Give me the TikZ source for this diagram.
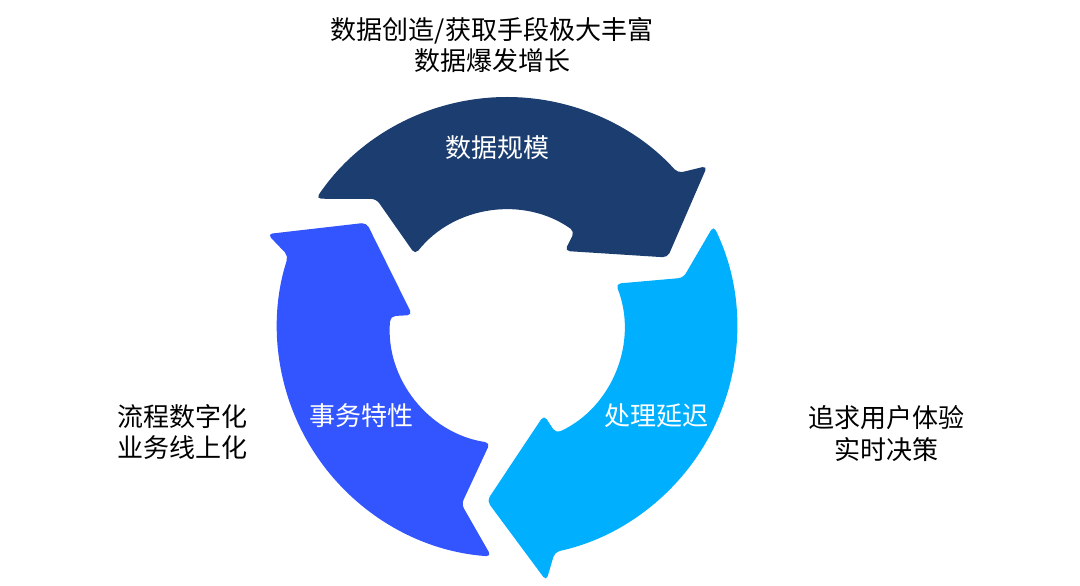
\documentclass[tikz,border=0pt]{standalone}
\usepackage{fontspec}
\newfontfamily\cjk{Noto Sans CJK SC}
\definecolor{darkb}{HTML}{1B3D70}
\definecolor{midb}{HTML}{3355FF}
\definecolor{lightb}{HTML}{00B0FF}
\newcommand\cycArrow[2]{%
  \fill[#2, rounded corners=5pt, shift={(507,259)}, rotate=#1]
    (26.1:230) arc[start angle=26.1, end angle=-78, radius=230pt]
    -- (-81.2:257) -- (-96.6:175) -- (-67.2:95.5) -- (-65.3:117)
    arc[start angle=-65.3, end angle=21.7, radius=117pt]
    -- (15.6:183) -- cycle;}
\begin{document}
\begin{tikzpicture}[x=1pt,y=1pt,
  lab/.style={font=\cjk\fontsize{26}{31.5}\selectfont, align=center, inner sep=0pt},
  inlab/.style={lab, text=white}]
\useasboundingbox (0,0) rectangle (1080,586);
\cycArrow{0}{lightb}
\cycArrow{120}{darkb}
\cycArrow{240}{midb}
\node[inlab] (scale) at (497,438) {数据规模};
\node[inlab] (txn) at (361,170) {事务特性};
\node[inlab] (lat) at (656,170) {处理延迟};
\node[lab] (top) at (492,541) {数据创造/获取手段极大丰富\\数据爆发增长};
\node[lab] (left) at (182.5,154) {流程数字化\\业务线上化};
\node[lab] (right) at (886,152.5) {追求用户体验\\实时决策};
\end{tikzpicture}
\end{document}
